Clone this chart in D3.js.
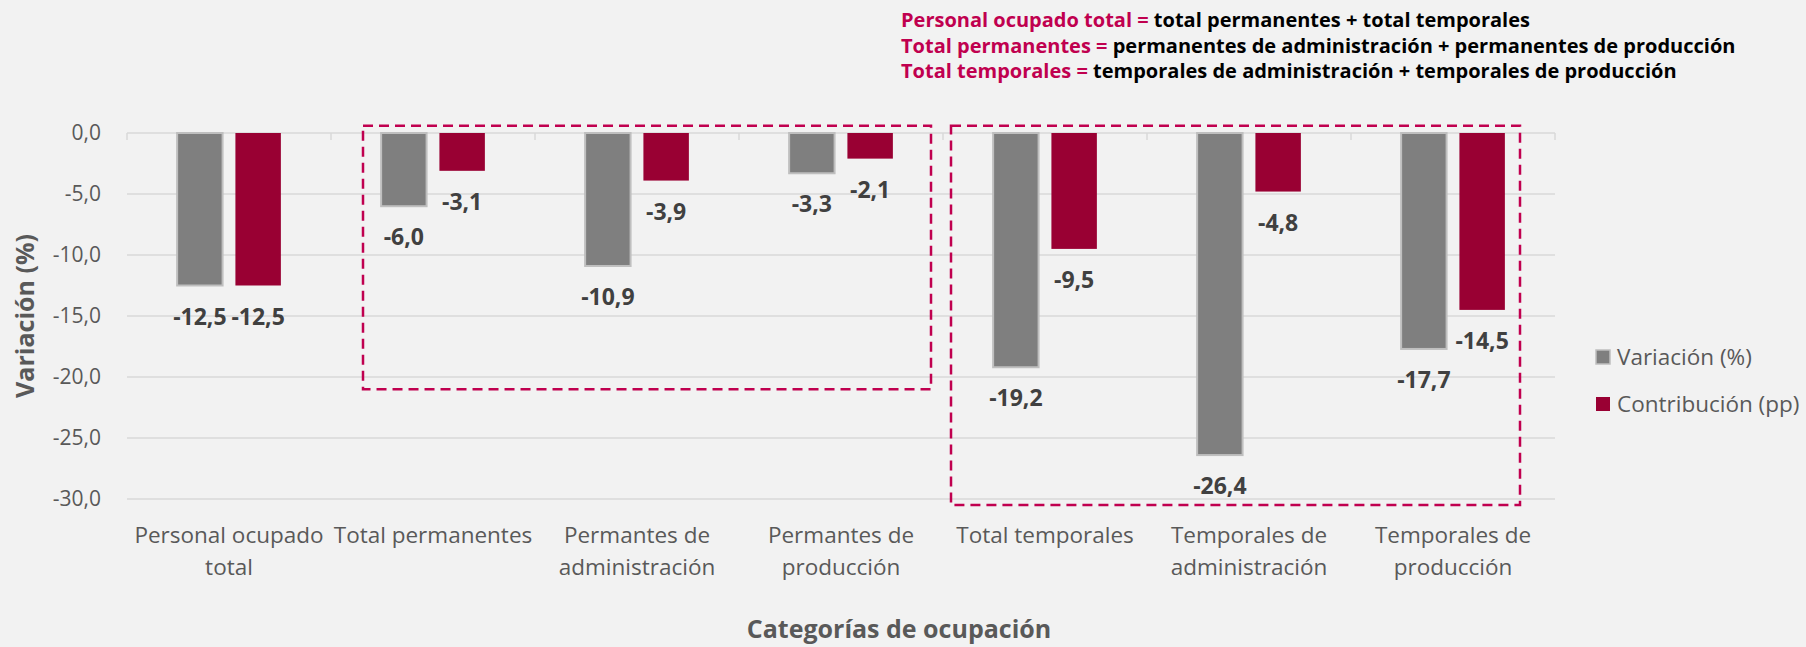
<!DOCTYPE html>
<html>
<head>
<meta charset="utf-8">
<script src="https://cdn.jsdelivr.net/npm/d3@7"></script>
<style>
    body { margin: 0; background: #f2f2f2; }
    svg { display: block; font-family: "Open Sans", "Noto Sans", sans-serif; }
</style>
</head>
<body>
<svg id="chart"></svg>
<script>
// data
var categories = ['Personal ocupado total', 'Total permanentes', 'Permantes de administración',
    'Permantes de producción', 'Total temporales', 'Temporales de administración', 'Temporales de producción'];
var categoryLines = [['Personal ocupado', 'total'], ['Total permanentes'], ['Permantes de', 'administración'],
    ['Permantes de', 'producción'], ['Total temporales'], ['Temporales de', 'administración'], ['Temporales de', 'producción']];
var variacion = [-12.5, -6.0, -10.9, -3.3, -19.2, -26.4, -17.7];
var contribucion = [-12.5, -3.1, -3.9, -2.1, -9.5, -4.8, -14.5];
var seriesNames = ['Variación (%)', 'Contribución (pp)'];
var yTicks = [0, -5, -10, -15, -20, -25, -30];
var notes = [
    ['Personal ocupado total = ', 'total permanentes + total temporales'],
    ['Total permanentes = ', 'permanentes de administración + permanentes de producción'],
    ['Total temporales = ', 'temporales de administración + temporales de producción']
];

var colors = ['#7f7f7f', '#990033'];
var strokes = ['#bfbfbf', 'none'];
var accent = '#c0004f';

var width = 1806, height = 647;
var margin = {top: 133, right: 251, bottom: 148, left: 127};
var innerW = width - margin.left - margin.right;
var innerH = height - margin.top - margin.bottom;

var locale = d3.formatLocale({decimal: ',', thousands: '.', grouping: [3], currency: ['', ''], minus: '-'});
var fmt = locale.format('.1f');

var svg = d3.select('#chart')
    .attr('width', width)
    .attr('height', height);

svg.append('rect').attr('width', width).attr('height', height).attr('fill', '#f2f2f2');

var g = svg.append('g')
    .attr('transform', 'translate(' + margin.left + ',' + margin.top + ')');

// scales
var x = d3.scaleBand().domain(categories).range([0, innerW]).padding(0);
var xs = d3.scaleBand().domain([0, 1]).range([0, x.bandwidth()]).paddingInner(0.22).paddingOuter(0.86);
var y = d3.scaleLinear().domain([0, -30]).range([0, innerH]);

// gridlines
g.append('g')
    .selectAll('line')
    .data(yTicks)
    .join('line')
    .attr('x1', 0)
    .attr('x2', innerW)
    .attr('y1', d => y(d))
    .attr('y2', d => y(d))
    .attr('stroke', '#d9d9d9')
    .attr('stroke-width', 1.5);

// y axis labels
g.append('g')
    .selectAll('text')
    .data(yTicks)
    .join('text')
    .attr('x', -26)
    .attr('y', d => y(d))
    .attr('dy', '0.35em')
    .attr('text-anchor', 'end')
    .attr('fill', '#595959')
    .style('font-size', '21px')
    .text(d => fmt(d));

// category tick marks along the zero line
g.append('g')
    .selectAll('line')
    .data(d3.range(categories.length + 1))
    .join('line')
    .attr('x1', i => i * x.step())
    .attr('x2', i => i * x.step())
    .attr('y1', y(0))
    .attr('y2', y(0) + 7)
    .attr('stroke', '#d9d9d9')
    .attr('stroke-width', 1.5);

// bars
var series = [variacion, contribucion];
series.forEach(function(vals, s) {
    g.append('g')
        .selectAll('rect')
        .data(vals)
        .join('rect')
        .attr('x', (d, i) => x(categories[i]) + xs(s))
        .attr('y', y(0))
        .attr('width', xs.bandwidth())
        .attr('height', d => y(d) - y(0))
        .attr('fill', colors[s])
        .attr('stroke', strokes[s])
        .attr('stroke-width', 2);

    g.append('g')
        .selectAll('text')
        .data(vals)
        .join('text')
        .attr('x', (d, i) => x(categories[i]) + xs(s) + xs.bandwidth() / 2)
        .attr('y', d => y(d) + 31)
        .attr('dy', '0.35em')
        .attr('text-anchor', 'middle')
        .attr('fill', '#404040')
        .style('font-size', '23px')
        .style('font-weight', 'bold')
        .text(d => fmt(d));
});

// dashed boxes around the two groups
var boxes = [
    {from: 1, to: 3, left: 32, right: 12, bottom: -21.0},
    {from: 4, to: 6, left: 8, right: 35, bottom: -30.5}
];
g.append('g')
    .selectAll('rect')
    .data(boxes)
    .join('rect')
    .attr('x', d => x(categories[d.from]) + d.left)
    .attr('y', y(0.6))
    .attr('width', d => x(categories[d.to]) + x.bandwidth() - d.right - x(categories[d.from]) - d.left)
    .attr('height', d => y(d.bottom) - y(0.6))
    .attr('fill', 'none')
    .attr('stroke', accent)
    .attr('stroke-width', 2.5)
    .attr('stroke-dasharray', '10,6');

// category labels
var catLabels = g.append('g')
    .selectAll('text')
    .data(categoryLines)
    .join('text')
    .attr('x', (d, i) => x(categories[i]) + x.bandwidth() / 2)
    .attr('y', innerH + 36)
    .attr('text-anchor', 'middle')
    .attr('fill', '#595959')
    .style('font-size', '22.5px');
catLabels.selectAll('tspan')
    .data(d => d)
    .join('tspan')
    .attr('x', function() { return d3.select(this.parentNode).attr('x'); })
    .attr('dy', (d, i) => i == 0 ? '0.35em' : '32px')
    .text(d => d);

// axis titles
svg.append('text')
    .attr('x', 899)
    .attr('y', 629)
    .attr('dy', '0.35em')
    .attr('text-anchor', 'middle')
    .attr('fill', '#595959')
    .style('font-size', '25px')
    .style('font-weight', 'bold')
    .text('Categorías de ocupación');

svg.append('text')
    .attr('transform', 'translate(25,' + (margin.top + innerH / 2) + ') rotate(-90)')
    .attr('dy', '0.35em')
    .attr('text-anchor', 'middle')
    .attr('fill', '#595959')
    .style('font-size', '25px')
    .style('font-weight', 'bold')
    .text('Variación (%)');

// legend
var legend = svg.append('g')
    .selectAll('g')
    .data(seriesNames)
    .join('g')
    .attr('transform', (d, i) => 'translate(1596,' + (357 + i * 47) + ')');
legend.append('rect')
    .attr('x', 0)
    .attr('y', -7)
    .attr('width', 14)
    .attr('height', 14)
    .attr('fill', (d, i) => colors[i])
    .attr('stroke', (d, i) => strokes[i])
    .attr('stroke-width', 1.5);
legend.append('text')
    .attr('x', 21)
    .attr('dy', '0.35em')
    .attr('fill', '#595959')
    .style('font-size', '22.5px')
    .text(d => d);

// notes above the chart
var noteText = svg.append('g')
    .selectAll('text')
    .data(notes)
    .join('text')
    .attr('x', 901)
    .attr('y', (d, i) => 20 + i * 25.5)
    .attr('dy', '0.35em')
    .style('font-size', '20px')
    .style('font-weight', 'bold');
noteText.append('tspan').attr('fill', accent).text(d => d[0]);
noteText.append('tspan').attr('fill', '#000').text(d => d[1]);
</script>
</body>
</html>
